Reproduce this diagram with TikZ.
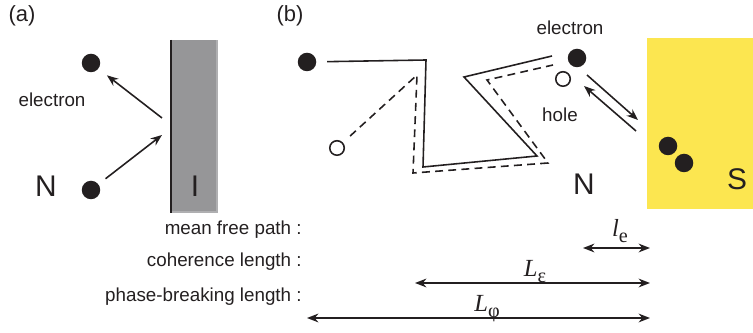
\documentclass[tikz,border=0pt]{standalone}
\usepackage{fontspec}
\setmainfont{Liberation Sans}
\newfontfamily\seriffont{Liberation Serif}
\usetikzlibrary{arrows.meta}

\definecolor{inkgray}{RGB}{35,31,32}
\definecolor{wallgray}{RGB}{150,150,152}
\definecolor{wallrim}{RGB}{175,175,177}
\definecolor{supyellow}{RGB}{252,230,80}

% lowered subscript for the length labels
\newcommand{\lensub}[1]{\raisebox{-0.45ex}{\fontsize{11.5}{13}\selectfont #1}}

\tikzset{
  edot/.style={circle, fill=inkgray, minimum size=0.37cm, inner sep=0pt},
  hdot/.style={circle, draw=inkgray, line width=0.9pt, fill=white, minimum size=0.29cm, inner sep=0pt},
  lbl/.style={font=\fontsize{10.7}{12}\selectfont, text=inkgray, inner sep=0pt},
  big/.style={font=\fontsize{17}{19}\selectfont, text=inkgray, inner sep=0pt, anchor=base},
  arr/.style={-{Stealth[length=6.5pt,width=5pt]}, line width=0.9pt, draw=inkgray},
  dbl/.style={{Stealth[length=6.5pt,width=5pt]}-{Stealth[length=6.5pt,width=5pt]}, line width=0.9pt, draw=inkgray},
  walk/.style={line width=0.9pt, draw=inkgray},
  lenlbl/.style={font=\seriffont\fontsize{14}{16}\selectfont, text=inkgray, inner sep=0pt, anchor=base},
}

\begin{document}
\begin{tikzpicture}[x=0.02cm, y=-0.02cm]
  \useasboundingbox (0,0) rectangle (753,333);
  % Panel (a): reflection at an insulator
  \node[lbl, font=\fontsize{12.5}{14}\selectfont, anchor=base] (pa) at (22,22) {(a)};
  \fill[wallrim] (171,40) rectangle (218,213);
  \fill[wallgray] (171,40) rectangle (216,211);
  \draw[line width=1.7pt, inkgray] (171,40) -- (171,213);
  \node[edot] (ea1) at (91,63) {};
  \node[edot] (ea2) at (91,190) {};
  \coordinate (hitin) at (162,135);
  \coordinate (hitout) at (162,118);
  \draw[arr, shorten <=5pt] (ea2) -- (hitin);
  \draw[arr, shorten >=6pt] (hitout) -- (ea1);
  \node[lbl, anchor=base] (elA) at (52,107) {electron};
  \node[big] (nA) at (46,197) {N};
  \node[big] (iA) at (195,197) {I};

  % Panel (b): Andreev reflection at a superconductor
  \node[lbl, font=\fontsize{12.5}{14}\selectfont, anchor=base] (pb) at (290,22) {(b)};
  \fill[supyellow] (647,38) rectangle (753,209);
  \node[edot] (eb0) at (307,62) {};
  \node[hdot] (hb0) at (337,148) {};
  \node[edot] (eb1) at (577,58) {};
  \node[hdot] (hb1) at (563,79) {};
  \node[edot] (cp1) at (668,146) {};
  \node[edot] (cp2) at (684,163) {};
  \coordinate (eend) at (552,56);
  \coordinate (hend) at (553,65);
  % electron and hole trajectories
  \draw[walk, shorten <=6pt] (eb0) -- (426,60) -- (423,167) -- (537,156) -- (464,77) -- (eend);
  \draw[walk, dash pattern=on 4.5pt off 3pt, shorten <=5.5pt]
    (hb0) -- (417,75) -- (413,173) -- (548,163) -- (487,80) -- (hend);
  \coordinate (toS0) at (587,75);
  \coordinate (toS1) at (638,120);
  \coordinate (frS0) at (636,131);
  \coordinate (frS1) at (584,86);
  \draw[arr] (toS0) -- (toS1);
  \draw[arr] (frS0) -- (frS1);
  \node[lbl, anchor=base] (elB) at (570,35) {electron};
  \node[lbl, anchor=base] (hoB) at (560,122) {hole};
  \node[big] (nB) at (584,195) {N};
  \node[big] (sB) at (737,190) {S};

  % Length scales
  \node[lbl, anchor=base east] (mfp) at (302,235) {mean free path :};
  \node[lbl, anchor=base east] (coh) at (302,267) {coherence length :};
  \node[lbl, anchor=base east] (phb) at (302,302) {phase-breaking length :};
  \coordinate (le0) at (583,248);
  \coordinate (le1) at (650,248);
  \coordinate (lc0) at (415,283);
  \coordinate (lc1) at (650,283);
  \coordinate (lp0) at (307,318);
  \coordinate (lp1) at (650,318);
  \draw[dbl] (le0) -- (le1);
  \draw[dbl] (lc0) -- (lc1);
  \draw[dbl] (lp0) -- (lp1);
  \node[lenlbl] (lelbl) at (620,237) {\textit{l}\lensub{e}};
  \node[lenlbl] (lclbl) at (535,277) {\textit{L}\lensub{ε}};
  \node[lenlbl] (lplbl) at (487,312) {\textit{L}\lensub{φ}};
\end{tikzpicture}
\end{document}
